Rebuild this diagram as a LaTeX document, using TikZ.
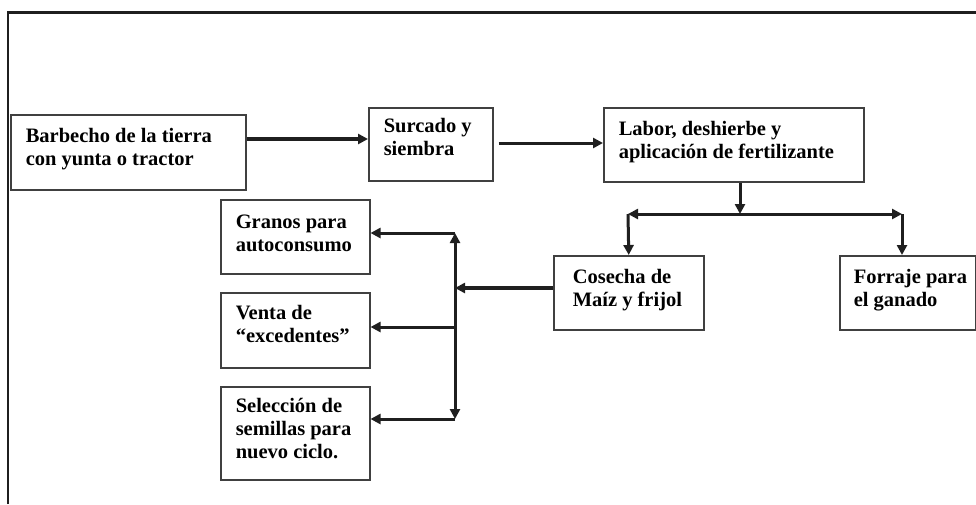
\documentclass[tikz,border=0pt]{standalone}
\usepackage{fontspec}
\setmainfont{Liberation Serif}
\usetikzlibrary{arrows.meta}
\newcommand{\boxtext}[5]{\parbox[c][#2][t]{#1}{\raggedright\leftskip=#3\relax\rule{0pt}{#4}#5}}
\tikzset{
  box/.style={draw=black!75, line width=1.5pt, inner sep=0pt, anchor=north west,
    font=\fontsize{20.5}{23}\selectfont\bfseries},
  arr/.style={line width=3pt, draw=black!88, -{Triangle[length=10pt,width=10pt]}},
  thickarr/.style={arr, line width=4.5pt},
}
\begin{document}
\begin{tikzpicture}[x=1pt,y=-1pt]
\useasboundingbox (0,0) rectangle (976,504);
% frame
\draw[line width=2.2pt, black!88] (8,504) -- (8,12.5) -- (976,12.5);
% boxes
\node[box] (b1) at (10,114) {\boxtext{235pt}{75pt}{15pt}{28pt}{Barbecho de la tierra\\con yunta o tractor}};
\node[box] (b2) at (368,107) {\boxtext{124pt}{73pt}{15pt}{25pt}{Surcado y\\siembra}};
\node[box] (b3) at (603,107) {\boxtext{260pt}{74pt}{15pt}{28pt}{Labor, deshierbe y\\aplicación de fertilizante}};
\node[box] (b4) at (553,255) {\boxtext{150pt}{74pt}{19pt}{28pt}{Cosecha de\\Maíz y frijol}};
\node[box] (b5) at (839,255) {\boxtext{136pt}{74pt}{14pt}{28pt}{Forraje para\\el ganado}};
\node[box] (b6) at (220,199) {\boxtext{149pt}{74pt}{15pt}{29pt}{Granos para\\autoconsumo}};
\node[box] (b7) at (220,292) {\boxtext{149pt}{75pt}{15pt}{27pt}{Venta de\\“excedentes”}};
\node[box] (b8) at (220,386) {\boxtext{149pt}{93pt}{15pt}{26pt}{Selección de\\semillas para\\nuevo ciclo.}};
% junction points
\coordinate (j1) at (740,214);
\coordinate (jL) at (628,214);
\coordinate (jR) at (902,214);
\coordinate (busTop) at (455,233);
\coordinate (busMid) at (455,327);
\coordinate (busBot) at (455,419);
\coordinate (busIn) at (455,288);
% connectors
\draw[arr, line width=3.6pt] ([yshift=-25pt]b1.north east) -- ([yshift=-25pt]b1.north east -| b2.west);
\draw[arr] ([xshift=5pt,yshift=-36pt]b2.north east) -- ([yshift=-36pt]b2.north east -| b3.west);
\draw[arr] (b3.south -| j1) -- (j1);
\draw[arr] (j1) -- (jL);
\draw[arr] (j1) -- (jR);
\draw[arr] (jL) -- (b4.north);
\draw[arr] (jR) -- (jR |- b5.north);
\draw[thickarr] (busIn -| b4.west) -- (busIn);
\draw[arr] (busIn) -- (busTop);
\draw[arr] (busIn) -- (busBot);
\draw[arr] (busTop) -- (busTop -| b6.east);
\draw[arr] (busMid) -- (busMid -| b7.east);
\draw[arr] (busBot) -- (busBot -| b8.east);
\end{tikzpicture}
\end{document}
